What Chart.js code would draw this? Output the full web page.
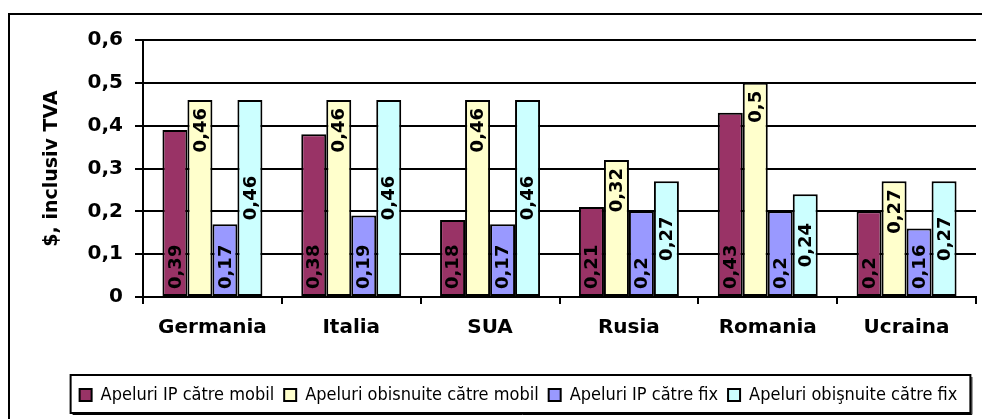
<!DOCTYPE html>
<html>
<head>
<meta charset="utf-8">
<script src="https://cdn.jsdelivr.net/npm/chart.js@4"></script>
<style>
  html, body { margin: 0; padding: 0; background: #fff; }
  #wrap { width: 982px; height: 419px; }
</style>
</head>
<body>
<div id="wrap"><canvas id="myChart" width="982" height="419"></canvas></div>
<script>
// chart data
const countries = ["Germania", "Italia", "SUA", "Rusia", "Romania", "Ucraina"];
const seriesNames = [
  "Apeluri IP către mobil",
  "Apeluri obisnuite către mobil",
  "Apeluri IP către fix",
  "Apeluri obişnuite către fix",
];
const ipMobil = [0.39, 0.38, 0.18, 0.21, 0.43, 0.2];
const obisnuiteMobil = [0.46, 0.46, 0.46, 0.32, 0.5, 0.27];
const ipFix = [0.17, 0.19, 0.17, 0.2, 0.2, 0.16];
const obisnuiteFix = [0.46, 0.46, 0.46, 0.27, 0.24, 0.27];
const yTickLabels = ["0", "0,1", "0,2", "0,3", "0,4", "0,5", "0,6"];
const yTitle = "$, inclusiv TVA";

const colors = ["#993366", "#FFFFCC", "#9999FF", "#CCFFFF"];
// where the rotated value label sits inside each bar
const labelAnchors = ["start", "end", "start", "center"];

const ctx = document.getElementById("myChart").getContext("2d");
const boldFont = "DejaVu Sans";

// white page + outer frame
const frame = {
  id: "frame",
  beforeDraw(chart) {
    const c = chart.ctx;
    c.save();
    c.fillStyle = "#fff";
    c.fillRect(0, 0, chart.width, chart.height);
    c.strokeStyle = "#000";
    c.lineWidth = 2;
    c.strokeRect(9, 14, chart.width + 20, chart.height + 20);
    c.restore();
  },
};

// rotated value labels inside the bars
const valueLabels = {
  id: "valueLabels",
  afterDatasetsDraw(chart) {
    const c = chart.ctx;
    c.save();
    c.font = "bold 18px " + boldFont;
    c.fillStyle = "#000";
    c.textBaseline = "middle";
    chart.data.datasets.forEach((ds, di) => {
      const meta = chart.getDatasetMeta(di);
      meta.data.forEach((bar, i) => {
        const txt = String(ds.data[i]).replace(".", ",");
        const anchor = labelAnchors[di];
        let pos;
        c.save();
        if (anchor === "start") {
          pos = bar.base - 7;
          c.textAlign = "left";
        } else if (anchor === "end") {
          pos = bar.y + 8;
          c.textAlign = "right";
        } else {
          pos = (bar.y + bar.base) / 2;
          c.textAlign = "center";
        }
        c.translate(bar.x + 1, pos);
        c.rotate(-Math.PI / 2);
        c.fillText(txt, 0, 0);
        c.restore();
      });
    });
    c.restore();
  },
};

// nudge the legend right a bit, then frame it
const legendBox = {
  id: "legendBox",
  afterLayout(chart) {
    const lg = chart.legend;
    if (!lg) return;
    lg.left += 13;
    lg.right += 13;
  },
  afterDraw(chart) {
    const lg = chart.legend;
    if (!lg || !lg.legendHitBoxes.length) return;
    const boxes = lg.legendHitBoxes;
    const left = boxes[0].left - 9;
    const last = boxes[boxes.length - 1];
    const right = last.left + last.width + 13;
    const top = lg.top - 1;
    const bottom = lg.bottom - 1;
    const c = chart.ctx;
    c.save();
    c.strokeStyle = "#000";
    c.lineWidth = 2;
    c.strokeRect(left, top, right - left, bottom - top);
    c.lineWidth = 1;
    c.beginPath();
    c.moveTo(left + 2, bottom + 1.5);
    c.lineTo(right + 1.5, bottom + 1.5);
    c.lineTo(right + 1.5, top + 2);
    c.stroke();
    c.restore();
  },
};

const series = [ipMobil, obisnuiteMobil, ipFix, obisnuiteFix];

new Chart(ctx, {
  type: "bar",
  data: {
    labels: countries,
    datasets: series.map((data, i) => ({
      label: seriesNames[i],
      data,
      backgroundColor: colors[i],
      borderColor: "#000",
      borderWidth: 2,
      borderSkipped: false,
      categoryPercentage: 0.72,
      barPercentage: 1.0,
    })),
  },
  options: {
    responsive: false,
    animation: false,
    events: [],
    layout: {
      padding: { left: 35, right: 6, top: 40, bottom: 5 },
    },
    plugins: {
      title: { display: false },
      tooltip: { enabled: false },
      legend: {
        display: true,
        position: "bottom",
        labels: {
          color: "#000",
          boxWidth: 12,
          boxHeight: 12,
          padding: 10,
          font: { family: "DejaVu Sans Condensed, DejaVu Sans", size: 18 },
        },
      },
    },
    scales: {
      x: {
        offset: true,
        afterFit: (scale) => {
          scale.height = 79;
        },
        grid: {
          display: true,
          drawOnChartArea: false,
          offset: true,
          color: "#000",
          lineWidth: 2,
          tickLength: 7,
        },
        border: { display: true, color: "#000", width: 2 },
        ticks: {
          color: "#000",
          padding: 12,
          maxRotation: 0,
          font: { family: boldFont, size: 20, weight: "bold" },
        },
      },
      y: {
        min: 0,
        max: 0.6,
        afterFit: (scale) => {
          scale.width = 143 - 35;
        },
        grid: {
          color: "#000",
          lineWidth: 2,
          tickLength: 8,
        },
        border: { display: true, color: "#000", width: 2 },
        ticks: {
          stepSize: 0.1,
          color: "#000",
          padding: 12,
          font: { family: boldFont, size: 20, weight: "bold" },
          callback: (v, i) => yTickLabels[i],
        },
        title: {
          display: true,
          text: yTitle,
          color: "#000",
          font: { family: boldFont, size: 19, weight: "bold" },
          padding: { top: 6, bottom: 0 },
        },
      },
    },
  },
  plugins: [frame, valueLabels, legendBox],
});
</script>
</body>
</html>
